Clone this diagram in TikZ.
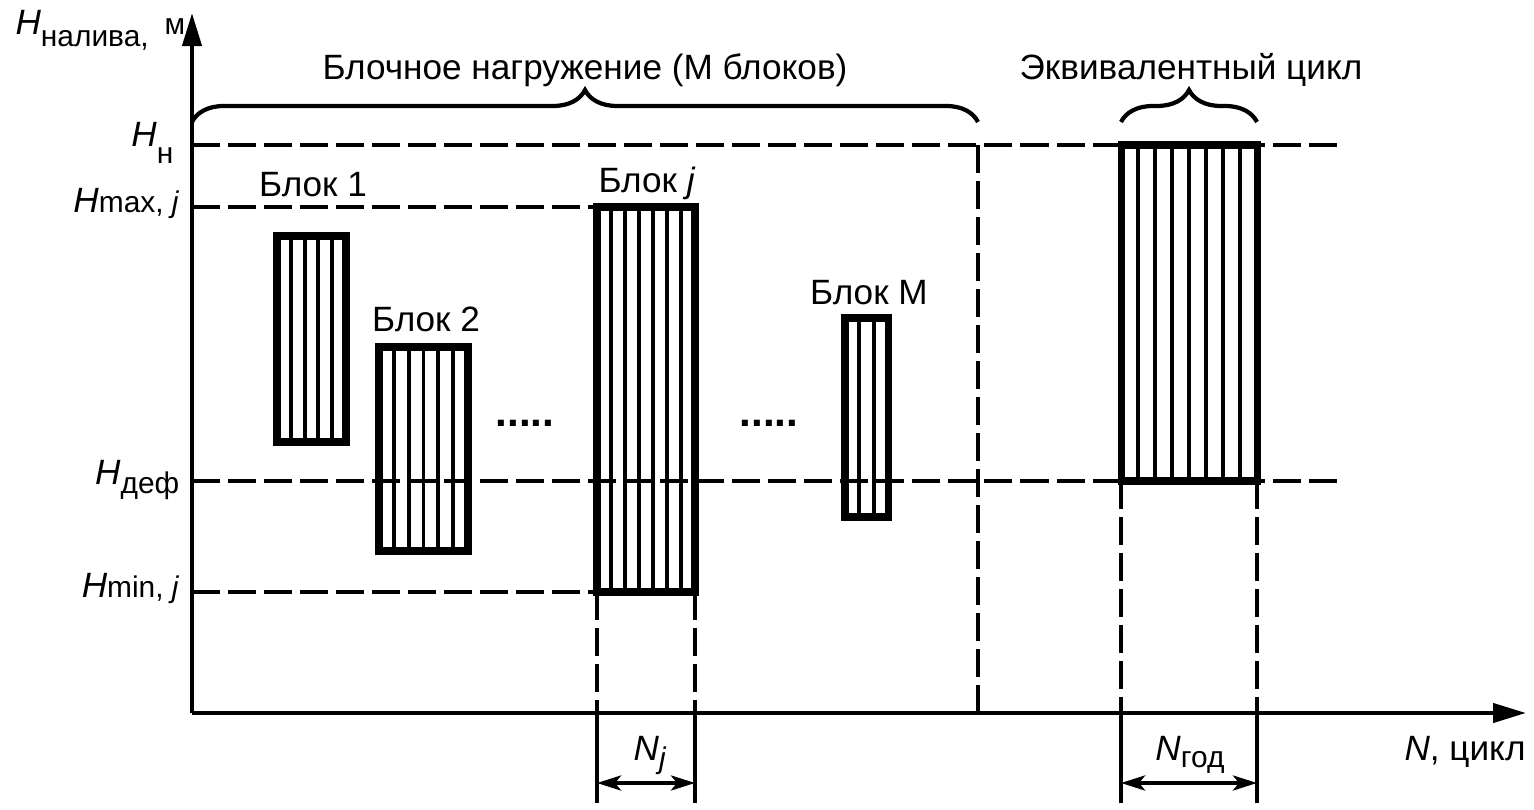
\documentclass[tikz,border=0pt]{standalone}
\usepackage{fontspec}
\setmainfont{Liberation Sans}
\usetikzlibrary{arrows.meta,decorations.pathreplacing}

\newcommand{\lowsub}[2][0pt]{\raisebox{-#1}{\fontsize{8.5}{10}\selectfont #2}}

\begin{document}
\begin{tikzpicture}[x=0.01cm,y=-0.01cm,
		label text/.style={font=\fontsize{10}{12}\selectfont,inner sep=0pt},
		axis line/.style={line width=1.2pt,-{Triangle[length=0.33cm,width=0.19cm]}},
		level line/.style={line width=1.05pt,dash pattern=on 0.28cm off 0.08cm},
		block box/.style={line width=2pt},
		hatch line/.style={line width=1.1pt},
		ext line/.style={line width=1.05pt},
		dim line/.style={line width=1.1pt,{Stealth[length=0.24cm,width=0.15cm,inset=0.06cm]}-{Stealth[length=0.24cm,width=0.15cm,inset=0.06cm]}},
		brace line/.style={line width=1.2pt,decorate,decoration={brace,amplitude=0.32cm}}]
		
		\useasboundingbox (0,0) rectangle (1534,810);
		
		\coordinate (O) at (192,713);
		\coordinate (ytip) at (192,13);
		\coordinate (xtip) at (1526,713);
		
		% blocks: name/left/top/right/bottom/hatch lines
		\foreach \name/\xa/\ya/\xb/\yb/\n in {b1/277/236/346/442/4, b2/379/347/468/551/5,
			bj/597/207/695/592/6, bm/845/318/888/517/2, beq/1121/145/1257/481/7} {
			\coordinate (\name-nw) at (\xa,\ya);
			\coordinate (\name-ne) at (\xb,\ya);
			\coordinate (\name-sw) at (\xa,\yb);
			\coordinate (\name-se) at (\xb,\yb);
		}
		
		% levels
		\coordinate (hn-end) at (1340,145);
		\coordinate (hdef-end) at (1340,481);
		\coordinate (split-top) at (978,145);
		\draw[level line] (O |- hn-end) -- (hn-end);
		\draw[level line] (O |- bj-nw) -- (bj-nw);
		\draw[level line] (O |- hdef-end) -- (hdef-end);
		\draw[level line] (O |- bj-sw) -- (bj-sw);
		\draw[level line] (split-top) -- (split-top |- O);
		
		\foreach \name/\xa/\ya/\xb/\yb/\n in {b1/277/236/346/442/4, b2/379/347/468/551/5,
			bj/597/207/695/592/6, bm/845/318/888/517/2, beq/1121/145/1257/481/7} {
			\foreach \k in {1,...,\n}
				\draw[hatch line] ({\xa+(\xb-\xa)*\k/(\n+1)},\ya) -- ({\xa+(\xb-\xa)*\k/(\n+1)},\yb);
			\draw[block box] (\name-nw) rectangle (\name-se);
		}
		
		% extension lines and dimensions
		\coordinate (nj-a) at (597,803);
		\coordinate (nj-b) at (695,803);
		\coordinate (ngod-a) at (1121,803);
		\coordinate (ngod-b) at (1257,803);
		\coordinate (nj-l) at (597,783);
		\coordinate (nj-r) at (695,783);
		\coordinate (ngod-l) at (1121,783);
		\coordinate (ngod-r) at (1257,783);
		\draw[level line] (bj-sw) -- (bj-sw |- O);
		\draw[level line] (bj-se) -- (bj-se |- O);
		\draw[level line] (beq-sw) -- (beq-sw |- O);
		\draw[level line] (beq-se) -- (beq-se |- O);
		\draw[ext line] (bj-sw |- O) -- (nj-a);
		\draw[ext line] (bj-se |- O) -- (nj-b);
		\draw[ext line] (beq-sw |- O) -- (ngod-a);
		\draw[ext line] (beq-se |- O) -- (ngod-b);
		\draw[dim line] (nj-l) -- (nj-r);
		\draw[dim line] (ngod-l) -- (ngod-r);
		
		% axes
		\draw[axis line] (O) -- (ytip);
		\draw[axis line] (O) -- (xtip);
		
		% braces
		\coordinate (brace-a) at (192,122);
		\coordinate (brace-b) at (978,122);
		\coordinate (brace-c) at (1121,122);
		\coordinate (brace-d) at (1257,122);
		\draw[brace line] (brace-a) -- (brace-b);
		\draw[brace line] (brace-c) -- (brace-d);
		
		% texts
		\node[label text,anchor=base east] (hnaliva) at (186,35) {\textit{H}\lowsub[1.2mm]{налива,}\hspace{1.6mm}\lowsub{м}};
		\node[label text,anchor=base east] (hn) at (174,147) {\textit{H}\lowsub[1.6mm]{н}};
		\node[label text,anchor=base east] (hmax) at (180,213) {\textit{H}\lowsub{max, \textit{j}}};
		\node[label text,anchor=base east] (hdef) at (180,485) {\textit{H}\lowsub[0.8mm]{деф}};
		\node[label text,anchor=base east] (hmin) at (180,597) {\textit{H}\lowsub{min, \textit{j}}};
		
		\node[label text,anchor=base] (title-blocks) at (585,80) {Блочное нагружение (М блоков)};
		\node[label text,anchor=base] (title-eq) at (1191,80) {Эквивалентный цикл};
		\node[label text,anchor=base] (lab-b1) at (313,197) {Блок 1};
		\node[label text,anchor=base] (lab-b2) at (426,332) {Блок 2};
		\node[label text,anchor=base] (lab-bj) at (647,193) {Блок \textit{j}};
		\node[label text,anchor=base] (lab-bm) at (869,305) {Блок М};
		\node[label text,font=\fontsize{12}{12}\selectfont,anchor=base] (dots-a) at (525,427) {\textbf{.....}};
		\node[label text,font=\fontsize{12}{12}\selectfont,anchor=base] (dots-b) at (769,427) {\textbf{.....}};
		
		\node[label text,anchor=base] (lab-n) at (1465,760) {\textit{N}, цикл};
		\node[label text,anchor=base] (lab-nj) at (650,760) {\textit{N}\lowsub[0.8mm]{\textit{j}}};
		\node[label text,anchor=base] (lab-ngod) at (1190,760) {\textit{N}\lowsub[0.7mm]{год}};
\end{tikzpicture}
\end{document}
